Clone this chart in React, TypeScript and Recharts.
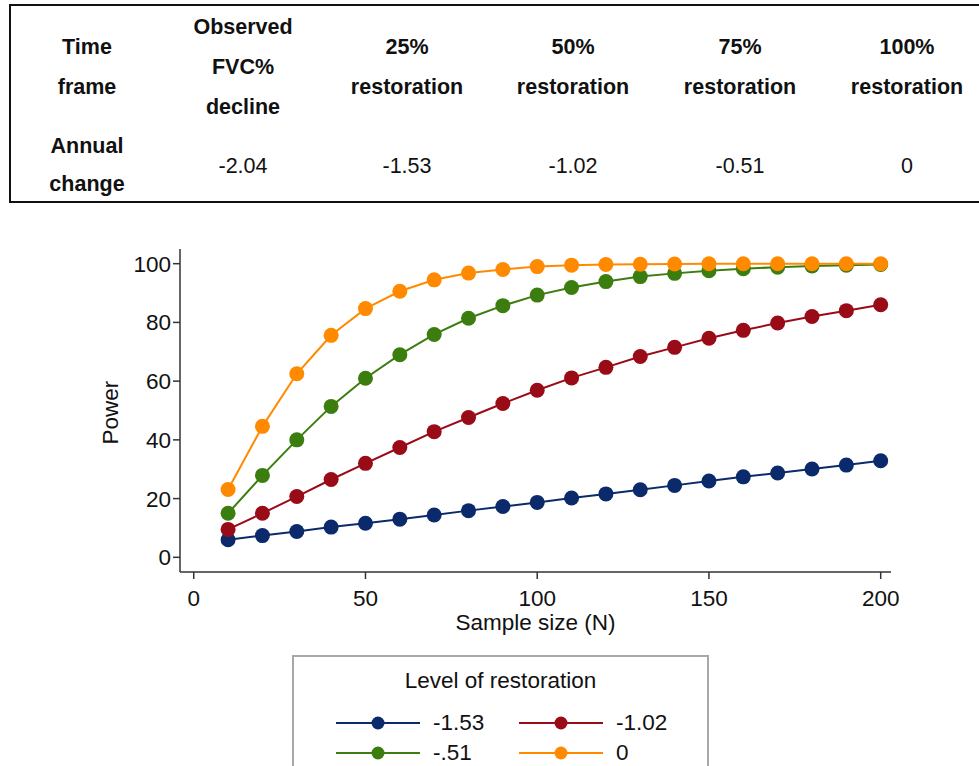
import React from "react";
import { LineChart, Line, XAxis, YAxis, Legend } from "recharts";

// sample sizes
const sampleSizes = [10, 20, 30, 40, 50, 60, 70, 80, 90, 100, 110, 120, 130, 140, 150, 160, 170, 180, 190, 200];

// power (%) per level of restoration (annual change)
const power153 = [6.0, 7.4, 8.8, 10.3, 11.6, 13.0, 14.4, 15.9, 17.3, 18.7, 20.2, 21.6, 23.0, 24.5, 26.0, 27.4, 28.7, 30.1, 31.4, 32.9];
const power102 = [9.5, 15.0, 20.7, 26.5, 32.0, 37.4, 42.8, 47.6, 52.4, 56.9, 61.1, 64.7, 68.4, 71.5, 74.6, 77.3, 79.8, 82.0, 84.0, 86.0];
const power051 = [15.0, 27.9, 40.0, 51.4, 61.0, 69.0, 75.9, 81.4, 85.7, 89.3, 91.9, 93.9, 95.6, 96.7, 97.6, 98.3, 98.8, 99.2, 99.5, 99.7];
const power000 = [23.1, 44.6, 62.5, 75.6, 84.7, 90.6, 94.5, 96.8, 98.0, 99.0, 99.5, 99.7, 99.8, 99.9, 100, 100, 100, 100, 100, 100];

const xTicks = [0, 50, 100, 150, 200];
const yTicks = [0, 20, 40, 60, 80, 100];

// top table
const tableHeader = [["Time", "frame"], ["Observed", "FVC%", "decline"], ["25%", "restoration"], ["50%", "restoration"], ["75%", "restoration"], ["100%", "restoration"]];
const tableRowLabel = ["Annual", "change"];
const tableValues = ["-2.04", "-1.53", "-1.02", "-0.51", "0"];
const colCenters = [87, 243, 407, 573, 740, 907];

const series = [
  { key: "s153", name: "-1.53", color: "#0b2a6b", values: power153 },
  { key: "s102", name: "-1.02", color: "#9a0b18", values: power102 },
  { key: "s051", name: "-.51", color: "#3b7d0e", values: power051 },
  { key: "s000", name: "0", color: "#ff8a00", values: power000 },
];

const data = sampleSizes.map((n, i) => {
  const row: Record<string, number> = { n };
  series.forEach((s) => (row[s.key] = s.values[i]));
  return row;
});

const FONT = "'Liberation Sans', Arial, sans-serif";

function LegendBox() {
  return (
    <div
      style={{
        width: 417,
        height: 120,
        border: "2px solid #a8a8a8",
        boxSizing: "border-box",
        fontFamily: FONT,
        color: "#111",
        position: "relative",
      }}
    >
      <div style={{ position: "absolute", top: 11, width: "100%", textAlign: "center", fontSize: 22.5 }}>
        Level of restoration
      </div>
      {series.map((s, i) => {
        const col = i % 2;
        const row = Math.floor(i / 2);
        const left = 42 + col * 183;
        const top = 51 + row * 30;
        return (
          <div key={s.key} style={{ position: "absolute", left, top, height: 30, display: "flex", alignItems: "center" }}>
            <svg width={84} height={16}>
              <line x1={0} y1={8} x2={84} y2={8} stroke={s.color} strokeWidth={2} />
              <circle cx={42} cy={8} r={6.5} fill={s.color} />
            </svg>
            <span style={{ marginLeft: 13, fontSize: 22.5 }}>{s.name}</span>
          </div>
        );
      })}
    </div>
  );
}

export default function App() {
  return (
    <div style={{ position: "absolute", left: 0, top: 0, width: 979, height: 766, overflow: "hidden", background: "#fff", fontFamily: FONT }}>
      {/* table */}
      <div
        style={{
          position: "absolute",
          left: 9,
          top: 4,
          width: 990,
          height: 199,
          borderTop: "2px solid #111",
          borderLeft: "2px solid #111",
          borderBottom: "2px solid #111",
          boxSizing: "border-box",
        }}
      />
      {tableHeader.map((lines, ci) => {
        const startY = lines.length === 3 ? 28 : 48;
        return lines.map((t, li) => (
          <div
            key={`h${ci}-${li}`}
            style={{
              position: "absolute",
              left: colCenters[ci] - 80,
              width: 160,
              top: startY + li * 40 - 13,
              textAlign: "center",
              fontWeight: "bold",
              fontSize: 21.5,
              color: "#111",
            }}
          >
            {t}
          </div>
        ));
      })}
      {tableRowLabel.map((t, li) => (
        <div
          key={`r${li}`}
          style={{ position: "absolute", left: colCenters[0] - 80, width: 160, top: 147 + li * 38 - 13, textAlign: "center", fontWeight: "bold", fontSize: 21.5, color: "#111" }}
        >
          {t}
        </div>
      ))}
      {tableValues.map((t, i) => (
        <div
          key={`v${i}`}
          style={{ position: "absolute", left: colCenters[i + 1] - 80, width: 160, top: 167 - 13, textAlign: "center", fontSize: 21.5, color: "#111" }}
        >
          {t}
        </div>
      ))}

      {/* chart */}
      <div style={{ position: "absolute", left: 0, top: 0 }}>
        <LineChart width={979} height={766} data={data} margin={{ top: 249, right: 88, bottom: 134, left: 120 }}>
          <XAxis
            dataKey="n"
            type="number"
            domain={[-4, 203]}
            ticks={xTicks}
            height={60}
            tickSize={7}
            tick={{ fontSize: 22.5, fill: "#111", fontFamily: FONT, dy: 9 }}
            axisLine={{ stroke: "#333", strokeWidth: 1.5 }}
            tickLine={{ stroke: "#333", strokeWidth: 1.5 }}
            label={{ value: "Sample size (N)", position: "insideBottom", offset: 2, fontSize: 22.5, fill: "#111", fontFamily: FONT }}
          />
          <YAxis
            type="number"
            domain={[-5, 105]}
            ticks={yTicks}
            width={60}
            tickSize={7}
            tick={{ fontSize: 22.5, fill: "#111", fontFamily: FONT }}
            axisLine={{ stroke: "#333", strokeWidth: 1.5 }}
            tickLine={{ stroke: "#333", strokeWidth: 1.5 }}
            label={{ value: "Power", angle: -90, position: "insideLeft", offset: -10, fontSize: 22.5, fill: "#111", fontFamily: FONT, dy: 34 }}
          />
          <Legend
            layout="vertical"
            align="center"
            verticalAlign="middle"
            wrapperStyle={{ position: "absolute", left: 292, top: 655, width: 417, height: 120 }}
            content={() => <LegendBox />}
          />
          {series.map((s) => (
            <Line
              key={s.key}
              dataKey={s.key}
              name={s.name}
              type="linear"
              stroke={s.color}
              strokeWidth={2}
              dot={{ r: 7.5, fill: s.color, stroke: "none" }}
              activeDot={false}
              isAnimationActive={false}
            />
          ))}
        </LineChart>
      </div>
    </div>
  );
}
